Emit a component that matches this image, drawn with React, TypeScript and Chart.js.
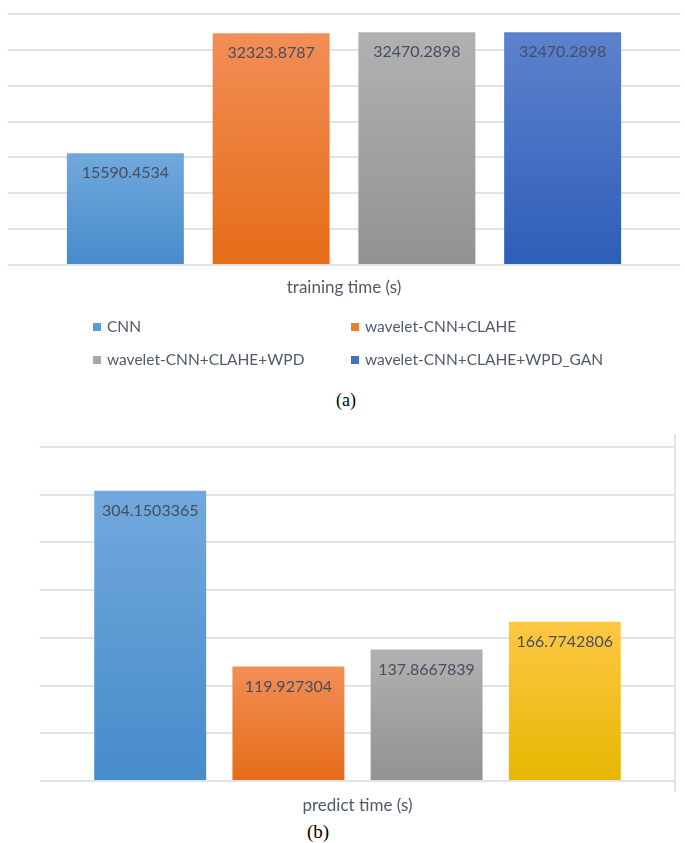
import React, { useEffect, useRef } from 'react';
import { Chart, registerables } from 'chart.js';

Chart.register(...registerables);

// ---------- data ----------
const seriesNames = ['CNN', 'wavelet-CNN+CLAHE', 'wavelet-CNN+CLAHE+WPD', 'wavelet-CNN+CLAHE+WPD_GAN'];

const trainingCategories = ['training time (s)'];
const trainingValues = [15590.4534, 32323.8787, 32470.2898, 32470.2898];
const trainingValueLabels = ['15590.4534', '32323.8787', '32470.2898', '32470.2898'];
const trainingTicks = [0, 5000, 10000, 15000, 20000, 25000, 30000, 35000];

const predictCategories = ['predict time (s)'];
const predictValues = [304.1503365, 119.927304, 137.8667839, 166.7742806];
const predictValueLabels = ['304.1503365', '119.927304', '137.8667839', '166.7742806'];
const predictTicks = [0, 50, 100, 150, 200, 250, 300, 350];

const trainingTopColors = ['#72a8dd', '#f28e57', '#b1b1b1', '#5d82cd'];
const trainingBottomColors = ['#468bca', '#e56c18', '#929292', '#2d5eb8'];
const trainingLegendColors = ['#5b9bd5', '#ed7d31', '#a5a5a5', '#4472c4'];
const predictTopColors = ['#72a8dd', '#f28e57', '#b1b1b1', '#fec845'];
const predictBottomColors = ['#468bca', '#e56c18', '#929292', '#e5b700'];

// ---------- styles ----------
const FONT = 'Lato, "Open Sans", "DejaVu Sans", sans-serif';
const GRID = '#dfe3ea';
const VALUE_TEXT = '#454f62';
const AXIS_TEXT = '#505a6a';

function gradientFill(tops: string[], bottoms: string[]) {
  return (ctx: any) => {
    const i = ctx.datasetIndex;
    const chart = ctx.chart;
    const area = chart.chartArea;
    const yScale = chart.scales && chart.scales.y;
    if (!area || !yScale || ctx.type !== 'data') return bottoms[i];
    const yTop = yScale.getPixelForValue(ctx.raw);
    const yBase = yScale.getPixelForValue(0);
    if (!isFinite(yTop) || !isFinite(yBase) || yTop === yBase) return bottoms[i];
    const g = chart.ctx.createLinearGradient(0, yTop, 0, yBase);
    g.addColorStop(0, tops[i]);
    g.addColorStop(1, bottoms[i]);
    return g;
  };
}

function valueLabelPlugin(labels: string[], offset: number) {
  return {
    id: 'valueLabels',
    afterDatasetsDraw(chart: any) {
      const ctx = chart.ctx;
      ctx.save();
      ctx.font = `16px ${FONT}`;
      ctx.fillStyle = VALUE_TEXT;
      ctx.textAlign = 'center';
      ctx.textBaseline = 'middle';
      chart.data.datasets.forEach((_ds: any, i: number) => {
        const meta = chart.getDatasetMeta(i);
        meta.data.forEach((el: any) => {
          ctx.fillText(labels[i], el.x, el.y + offset);
        });
      });
      ctx.restore();
    },
  };
}

function gridLegendPlugin(colors: string[]) {
  return {
    id: 'gridLegend',
    afterDraw(chart: any) {
      const ctx = chart.ctx;
      const cols = [93, 351];
      const rows = [327, 360];
      ctx.save();
      ctx.font = `15.5px ${FONT}`;
      ctx.textBaseline = 'middle';
      ctx.textAlign = 'left';
      chart.data.datasets.forEach((ds: any, i: number) => {
        const x = cols[i % 2];
        const y = rows[Math.floor(i / 2)];
        ctx.fillStyle = colors[i];
        ctx.fillRect(x, y - 4, 8, 8);
        ctx.fillStyle = AXIS_TEXT;
        ctx.fillText(ds.label, x + 14, y);
      });
      ctx.restore();
    },
  };
}

function rightBorderPlugin() {
  return {
    id: 'rightBorder',
    beforeDatasetsDraw(chart: any) {
      const { ctx, chartArea } = chart;
      ctx.save();
      ctx.strokeStyle = GRID;
      ctx.lineWidth = 2;
      ctx.beginPath();
      ctx.moveTo(chartArea.right, chartArea.top - 13);
      ctx.lineTo(chartArea.right, chartArea.bottom + 11);
      ctx.stroke();
      ctx.restore();
    },
  };
}

function buildConfig(opts: {
  categories: string[];
  values: number[];
  tops: string[];
  bottoms: string[];
  ticks: number[];
  padding: { left: number; right: number; top: number; bottom: number };
  xHeight: number;
  tickPadding: number;
  catPct: number;
  barPct: number;
  plugins: any[];
}) {
  const max = opts.ticks[opts.ticks.length - 1];
  return {
    type: 'bar' as const,
    data: {
      labels: opts.categories,
      datasets: seriesNames.map((name, i) => ({
        label: name,
        data: [opts.values[i]],
        backgroundColor: gradientFill(opts.tops, opts.bottoms),
        borderWidth: 0,
        categoryPercentage: opts.catPct,
        barPercentage: opts.barPct,
      })),
    },
    options: {
      responsive: false,
      animation: false as const,
      devicePixelRatio: 1,
      layout: { padding: opts.padding },
      plugins: {
        legend: { display: false },
        tooltip: { enabled: false },
        title: { display: false },
      },
      scales: {
        x: {
          grid: { display: false, drawTicks: false },
          border: { display: false },
          ticks: {
            color: AXIS_TEXT,
            font: { family: FONT, size: 17 },
            padding: opts.tickPadding,
          },
          afterFit: (s: any) => {
            s.height = opts.xHeight;
          },
        },
        y: {
          min: 0,
          max,
          grid: { color: GRID, lineWidth: 2, drawTicks: false },
          border: { display: false },
          ticks: { display: false },
          afterBuildTicks: (s: any) => {
            s.ticks = opts.ticks.map((v) => ({ value: v }));
          },
          afterFit: (s: any) => {
            s.width = 0;
          },
        },
      },
    },
    plugins: opts.plugins,
  };
}

function ChartCanvas({ config, top, height }: { config: () => any; top: number; height: number }) {
  const ref = useRef<HTMLCanvasElement | null>(null);
  useEffect(() => {
    if (!ref.current) return;
    const chart = new Chart(ref.current, config());
    let alive = true;
    const fonts: any = (document as any).fonts;
    if (fonts && fonts.load) {
      fonts.load(`16px Lato`).then(() => {
        if (alive) chart.update();
      }).catch(() => {});
    }
    return () => {
      alive = false;
      chart.destroy();
    };
  }, []);
  return (
    <canvas
      ref={ref}
      width={685}
      height={height}
      style={{ position: 'absolute', left: 0, top, width: 685, height }}
    />
  );
}

export default function App() {
  const trainingConfig = () =>
    buildConfig({
      categories: trainingCategories,
      values: trainingValues,
      tops: trainingTopColors,
      bottoms: trainingBottomColors,
      ticks: trainingTicks,
      padding: { left: 8, right: 5, top: 14, bottom: 75 },
      xHeight: 40,
      tickPadding: 12,
      catPct: 0.8676,
      barPct: 0.8025,
      plugins: [valueLabelPlugin(trainingValueLabels, 20), gridLegendPlugin(trainingLegendColors)],
    });
  const predictConfig = () =>
    buildConfig({
      categories: predictCategories,
      values: predictValues,
      tops: predictTopColors,
      bottoms: predictBottomColors,
      ticks: predictTicks,
      padding: { left: 40, right: 10, top: 27, bottom: 1 },
      xHeight: 38,
      tickPadding: 14,
      catPct: 0.8705,
      barPct: 0.81,
      plugins: [valueLabelPlugin(predictValueLabels, 20), rightBorderPlugin()],
    });

  const captionStyle: React.CSSProperties = {
    position: 'absolute',
    textAlign: 'center',
    fontFamily: '"Liberation Serif", "Times New Roman", serif',
    color: '#000',
    lineHeight: '20px',
  };

  return (
    <div style={{ position: 'absolute', left: 0, top: 0, width: 685, height: 843, background: '#fff', overflow: 'hidden' }}>
      <ChartCanvas config={trainingConfig} top={0} height={380} />
      <div style={{ ...captionStyle, left: 0, width: 692, top: 390, fontSize: 18 }}>(a)</div>
      <ChartCanvas config={predictConfig} top={420} height={400} />
      <div style={{ ...captionStyle, left: 0, width: 636, top: 822, fontSize: 19 }}>(b)</div>
    </div>
  );
}
